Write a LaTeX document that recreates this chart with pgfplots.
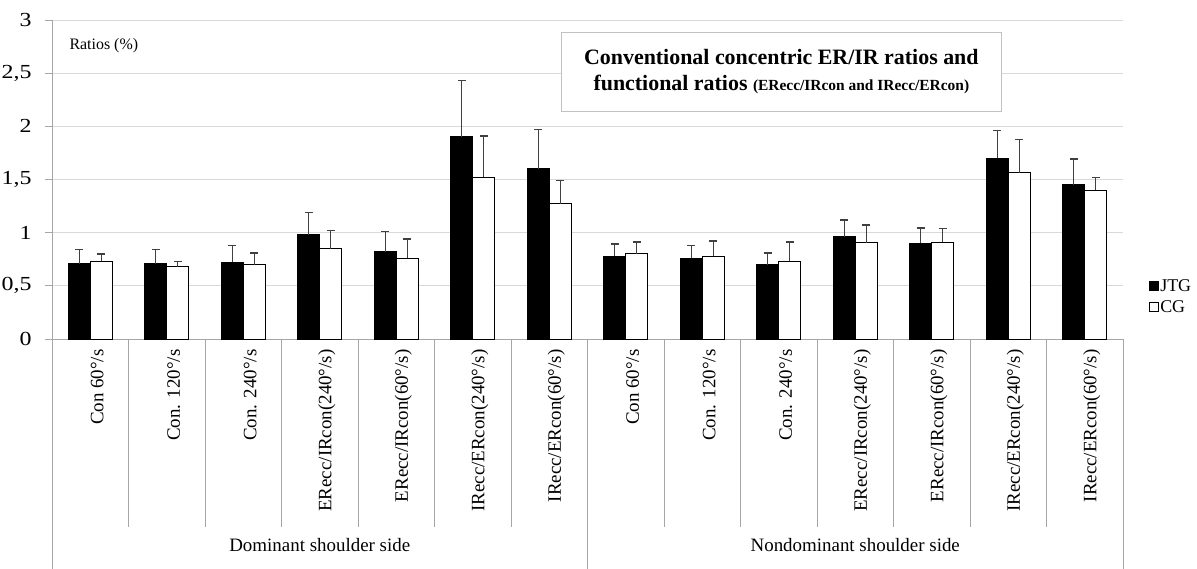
\documentclass[border=0pt]{standalone}
\usepackage{pgfplots}
\pgfplotsset{compat=1.18}
\usepackage{graphicx}
\usepackage{fontspec}
\setmainfont{Liberation Serif}

\definecolor{gridgray}{HTML}{D9D9D9}
\definecolor{axisgray}{HTML}{A6A6A6}
\definecolor{errgray}{HTML}{404040}

\newcommand{\wide}[1]{\scalebox{1.2}[1]{#1}}

\begin{document}
\begin{tikzpicture}
\begin{axis}[
    scale only axis,
    width=1071bp, height=319bp,
    ybar=0pt, bar width=22bp,
    xmin=-0.5, xmax=13.5,
    ymin=0, ymax=3,
    ytick={0,0.5,...,3},
    yticklabels={\wide{0},\wide{0,5},\wide{1},\wide{1,5},\wide{2},\wide{2,5},\wide{3}},
    xtick={0,...,13},
    xticklabels={Con 60°/s, Con. 120°/s, Con. 240°/s, ERecc/IRcon(240°/s), ERecc/IRcon(60°/s), IRecc/ERcon(240°/s), IRecc/ERcon(60°/s),
                 Con 60°/s, Con. 120°/s, Con. 240°/s, ERecc/IRcon(240°/s), ERecc/IRcon(60°/s), IRecc/ERcon(240°/s), IRecc/ERcon(60°/s)},
    axis x line*=bottom, axis y line*=left,
    axis line style={axisgray, line width=0.8bp},
    x axis line style={-}, y axis line style={-},
    ymajorgrids, grid style={gridgray, line width=1bp},
    xtick style={draw=none},
    ytick style={axisgray, line width=0.8bp},
    tick align=outside, major tick length=7bp,
    /pgf/number format/assume math mode=true,
    yticklabel style={font=\fontsize{20}{20}\selectfont, xshift=-10bp},
    xticklabel style={font=\fontsize{19}{19}\selectfont, rotate=90, anchor=east, yshift=-7bp},
    legend style={draw=none, fill=none, at={(rel axis cs:1.021,0.133)}, anchor=west,
                  font=\fontsize{18}{18}\selectfont, row sep=4bp,
                  /tikz/every even column/.style={column sep=1bp}},
    legend cell align=left,
    legend image code/.code={\draw[#1, line width=0.6bp] (0bp,-4.5bp) rectangle (9bp,4.5bp);},
    clip=false,
]
\addplot[fill=black, draw=black, line width=1bp,
    error bars/.cd, y dir=plus, y explicit,
    error bar style={errgray, line width=1.3bp},
    error mark options={errgray, rotate=90, mark size=4bp, line width=1.6bp}]
    coordinates {
    (0,0.71) +- (0,0.13)
    (1,0.71) +- (0,0.13)
    (2,0.72) +- (0,0.16)
    (3,0.98) +- (0,0.21)
    (4,0.82) +- (0,0.19)
    (5,1.90) +- (0,0.53)
    (6,1.60) +- (0,0.37)
    (7,0.78) +- (0,0.115)
    (8,0.76) +- (0,0.12)
    (9,0.70) +- (0,0.11)
    (10,0.96) +- (0,0.16)
    (11,0.90) +- (0,0.145)
    (12,1.70) +- (0,0.26)
    (13,1.45) +- (0,0.24)
    };
\addlegendentry{JTG}
\addplot[fill=white, draw=black, line width=1bp,
    error bars/.cd, y dir=plus, y explicit,
    error bar style={errgray, line width=1.3bp},
    error mark options={errgray, rotate=90, mark size=4bp, line width=1.6bp}]
    coordinates {
    (0,0.73) +- (0,0.07)
    (1,0.68) +- (0,0.05)
    (2,0.70) +- (0,0.11)
    (3,0.85) +- (0,0.17)
    (4,0.76) +- (0,0.18)
    (5,1.52) +- (0,0.39)
    (6,1.27) +- (0,0.22)
    (7,0.80) +- (0,0.11)
    (8,0.78) +- (0,0.14)
    (9,0.73) +- (0,0.18)
    (10,0.905) +- (0,0.165)
    (11,0.91) +- (0,0.13)
    (12,1.565) +- (0,0.31)
    (13,1.40) +- (0,0.12)
    };
\addlegendentry{CG}
% separators of the category table below the axis
\pgfplotsinvokeforeach{0.5,1.5,2.5,3.5,4.5,5.5,7.5,8.5,9.5,10.5,11.5,12.5}{
    \draw[axisgray, line width=0.8bp] (axis cs:#1,0) -- ([yshift=-188bp]axis cs:#1,0);
}
\pgfplotsinvokeforeach{-0.5,6.5,13.5}{
    \draw[axisgray, line width=0.8bp] (axis cs:#1,0) -- ([yshift=-230bp]axis cs:#1,0);
}
\node[font=\fontsize{19}{19}\selectfont] at ([yshift=-206bp]axis cs:3,0) {Dominant shoulder side};
\node[font=\fontsize{19}{19}\selectfont] at ([yshift=-206bp]axis cs:10,0) {Nondominant shoulder side};
\node[anchor=west, font=\fontsize{16}{16}\selectfont] at ([xshift=14bp]rel axis cs:0,0.918) {Ratios (\%)};
\node[draw=axisgray!70, fill=white, line width=0.8bp, align=center,
      minimum width=440bp, minimum height=79bp, inner sep=0pt,
      font=\fontsize{22}{27}\selectfont\bfseries]
    at (rel axis cs:0.681,0.8386)
    {Conventional concentric ER/IR ratios and\\
     functional ratios {\fontsize{15.5}{27}\selectfont (ERecc/IRcon and IRecc/ERcon)}};
\end{axis}
\pgfresetboundingbox
\path[use as bounding box] ([shift={(-52bp,-230bp)}]current axis.south west)
    rectangle ([shift={(74bp,20bp)}]current axis.north east);
\end{tikzpicture}
\end{document}
